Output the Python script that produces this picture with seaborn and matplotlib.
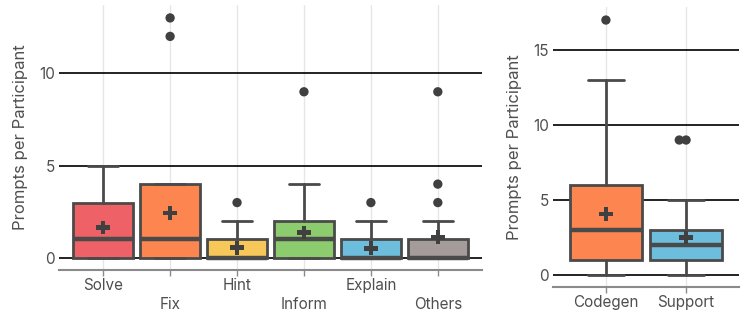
import matplotlib
matplotlib.use("Agg")
import matplotlib.pyplot as plt
import seaborn as sns
import pandas as pd

# ---- data ----
left_cats = ["Solve", "Fix", "Hint", "Inform", "Explain", "Others"]
left_q1 = [0, 0, 0, 0, 0, 0]
left_med = [1, 1, 0, 1, 0, 0]
left_q3 = [3, 4, 1, 2, 1, 1]
left_lo = [0, 0, 0, 0, 0, 0]
left_hi = [5, 4, 2, 4, 2, 2]
left_mean = [1.65, 2.43, 0.56, 1.38, 0.52, 1.12]
left_out = [[], [13, 12], [3], [9], [3], [9, 4, 3]]
left_colors = ["#EE6166", "#FD8650", "#F8C75A", "#8CCB6E", "#6DBEDD", "#A59B9B"]

right_cats = ["Codegen", "Support"]
right_q1 = [1, 1]
right_med = [3, 2]
right_q3 = [6, 3]
right_lo = [0, 0]
right_hi = [13, 5]
right_mean = [4.07, 2.5]
right_out = [[17], [9, 9]]
right_colors = ["#FD8650", "#6DBEDD"]

left_yticks = [0, 5, 10]
right_yticks = [0, 5, 10, 15]
ylabel = "Prompts per Participant"

sns.set_theme(style="white")
plt.rcParams["font.family"] = ["Inter", "DejaVu Sans"]

DARK = "#4a4a4a"
TXT = "#4f4f4f"

fig = plt.figure(figsize=(7.47, 3.22), dpi=100)
axL = fig.add_axes([59 / 747, 52 / 322, 423 / 747, 265 / 322])
axR = fig.add_axes([553 / 747, 35 / 322, 186 / 747, 280 / 322])


def draw(ax, cats, q1, med, q3, lo, hi, mean, outs, colors, yticks, ylim, stagger):
    stats = []
    for i, c in enumerate(cats):
        stats.append(dict(label=c, q1=q1[i], med=med[i], q3=q3[i],
                          whislo=lo[i], whishi=hi[i], mean=mean[i], fliers=[]))
    pos = list(range(len(cats)))
    # gridlines
    for y in yticks:
        ax.axhline(y, color="#111111", lw=1.3, zorder=0.5)
    for p in pos:
        ax.axvline(p, color="#e6e6e6", lw=1.0, zorder=0.3)
    bp = ax.bxp(stats, positions=pos, widths=0.9, patch_artist=True,
                showmeans=False, showfliers=False, capwidths=0.45,
                boxprops=dict(edgecolor=DARK, linewidth=2),
                medianprops=dict(color=DARK, linewidth=3.2, solid_capstyle="butt"),
                whiskerprops=dict(color=DARK, linewidth=2),
                capprops=dict(color=DARK, linewidth=2),
                manage_ticks=False, zorder=2)
    for patch, col in zip(bp["boxes"], colors):
        patch.set_facecolor(col)
    # outliers
    rows = []
    for i, o in enumerate(outs):
        seen = {}
        for v in o:
            k = seen.get(v, 0)
            seen[v] = k + 1
            rows.append(dict(x=i - 0.085 * k, y=v))
    if rows:
        df = pd.DataFrame(rows)
        sns.scatterplot(data=df, x="x", y="y", ax=ax, color="#404040", s=45,
                        edgecolor="none", zorder=4, legend=False)
    # means
    dm = pd.DataFrame(dict(x=pos, y=mean))
    sns.scatterplot(data=dm, x="x", y="y", ax=ax, marker="P", color="#404040",
                    s=100, edgecolor="none", zorder=5, legend=False)

    ax.set_xlim(-0.66, len(cats) - 1 + 0.66)
    ax.set_ylim(*ylim)
    ax.set_yticks(yticks)
    ax.set_yticklabels([str(t) for t in yticks])
    ax.set_xticks(pos)
    if stagger:
        ax.set_xticklabels([c if i % 2 == 0 else "\n" + c for i, c in enumerate(cats)],
                           linespacing=1.3)
    else:
        ax.set_xticklabels(cats)
    ax.set_xlabel("")
    ax.set_ylabel(ylabel, fontsize=12, color=TXT, labelpad=8)
    for s in ["top", "right", "left"]:
        ax.spines[s].set_visible(False)
    ax.spines["bottom"].set_color("#8a8a8a")
    ax.spines["bottom"].set_linewidth(1.5)
    ax.tick_params(axis="x", length=4, width=1, color="#8a8a8a", pad=2,
                   labelsize=11, labelcolor=TXT, bottom=True)
    ax.tick_params(axis="y", length=0, pad=3, labelsize=11, labelcolor=TXT, left=False)
    ax.set_facecolor("white")


draw(axL, left_cats, left_q1, left_med, left_q3, left_lo, left_hi, left_mean,
     left_out, left_colors, left_yticks, (-0.652, 13.70), True)
draw(axR, right_cats, right_q1, right_med, right_q3, right_lo, right_hi, right_mean,
     right_out, right_colors, right_yticks, (-0.8, 17.87), False)

fig.savefig("out.png", dpi=100, facecolor="white")
